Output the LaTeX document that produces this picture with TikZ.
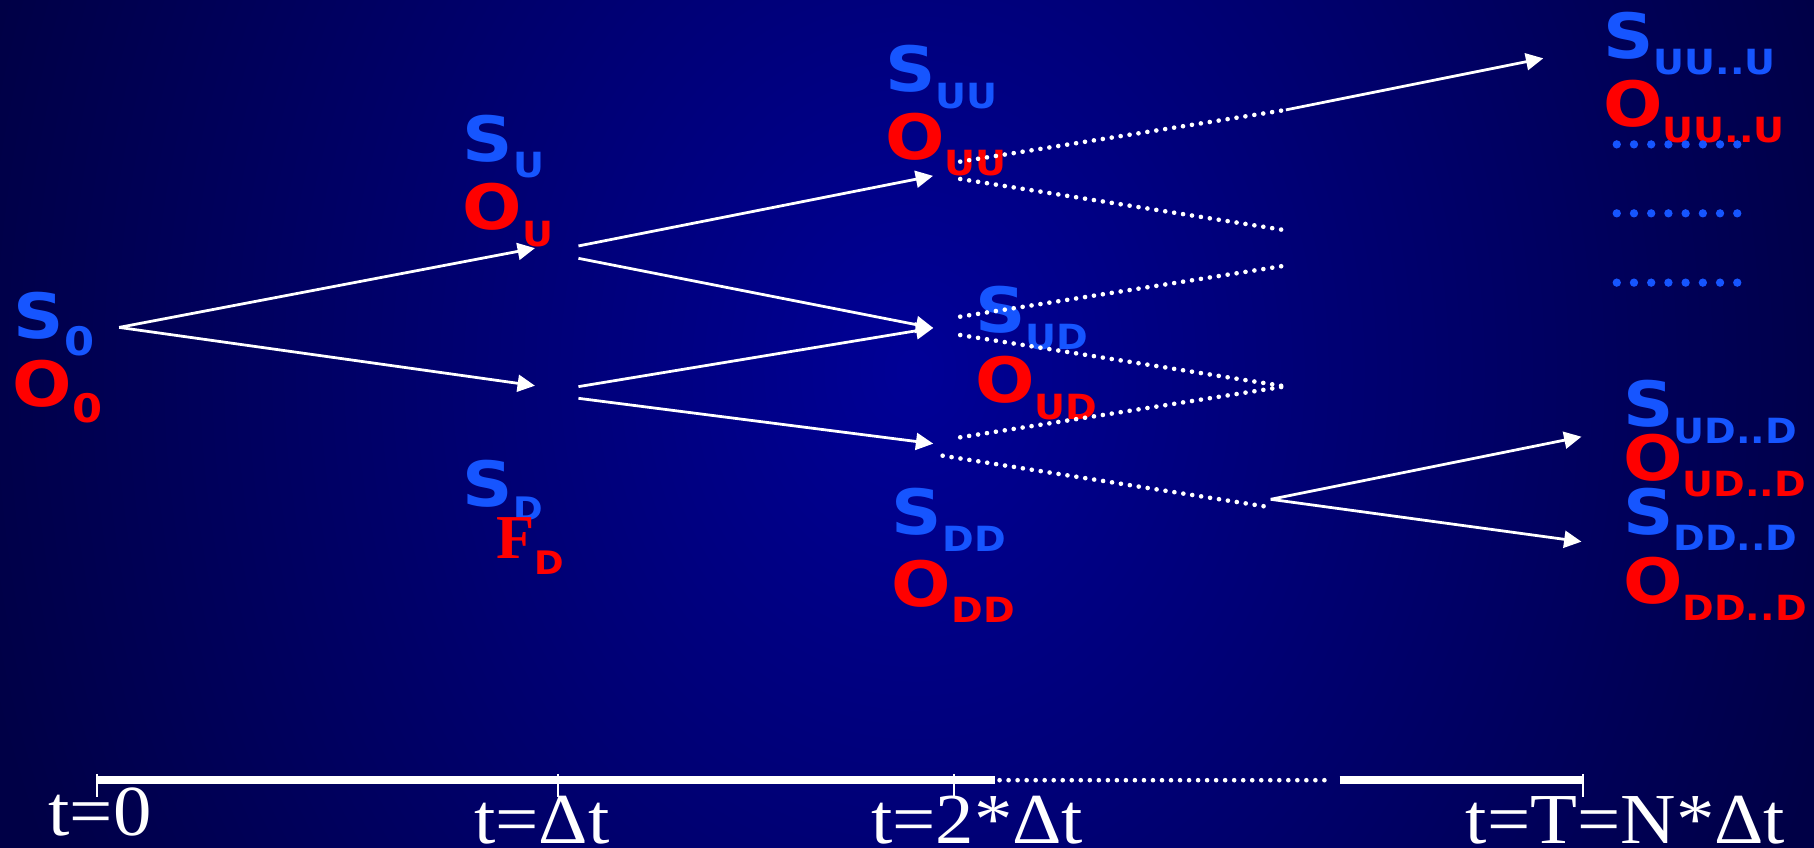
\documentclass[tikz,border=0pt]{standalone}
\usepackage{fontspec}
\usetikzlibrary{arrows.meta}
\newfontfamily\labfont{DejaVu Sans Bold}[FakeStretch=1.12]
\newfontfamily\subfont{DejaVu Sans Bold}[FakeStretch=1.1]
\newfontfamily\serfont{Liberation Serif}[FakeStretch=1.07]
\newfontfamily\serbold{Liberation Serif Bold}
\definecolor{sblue}{RGB}{22,85,255}
\definecolor{ored}{RGB}{255,0,0}
\definecolor{bgin}{RGB}{0,0,150}
\definecolor{bgout}{RGB}{0,0,70}
\newcommand\bigL[1]{{\labfont\fontsize{27pt}{27pt}\selectfont #1}}
\newcommand\subL[1]{\raisebox{-7.2pt}{\subfont\fontsize{15pt}{15pt}\selectfont #1}}
\newcommand\mylab[2]{\bigL{#1}\subL{#2}}
\newcommand\zerolab[1]{\bigL{#1}\raisebox{-7.2pt}{\subfont\fontsize{17pt}{17pt}\selectfont 0}}
\begin{document}
\begin{tikzpicture}[x=0.5pt,y=-0.5pt,
  lab/.style={anchor=base west,inner sep=0pt,outer sep=0pt,font=\labfont},
  sl/.style={lab,text=sblue},
  ol/.style={lab,text=ored},
  arr/.style={draw=white,line width=1.2pt,-{Triangle[length=7.5pt,width=7.3pt]}},
  dotl/.style={draw=white,line width=2pt,line cap=round,dash pattern=on 0pt off 3.9pt},
  barl/.style={draw=white,line width=3.6pt},
  tickl/.style={draw=white,line width=0.85pt},
  tlab/.style={anchor=base west,inner sep=0pt,outer sep=0pt,text=white,font=\serfont\fontsize{31pt}{31pt}\selectfont}]
\useasboundingbox (0,0) rectangle (1568,733);
\fill[bgout] (0,0) rectangle (1568,733);
\begin{scope}
\clip (0,0) rectangle (1568,733);
\shade[inner color=bgin,outer color=bgout] (790,320) ellipse (830 and 1000);
\end{scope}

% labels
\node[sl] (S0) at (12,292.5) {\zerolab{S}};
\node[ol] (O0) at (11,351) {\zerolab{O}};
\node[sl] (SU) at (400,139.2) {\mylab{S}{U}};
\node[ol] (OU) at (400,198.8) {\mylab{O}{U}};
\node[sl] (SD) at (400,438) {\bigL{S}\raisebox{-5.8pt}{\subfont\fontsize{14pt}{14pt}\selectfont D}};
\node[ol] (FD) at (429,482.6) {{\serbold\fontsize{27pt}{27pt}\selectfont F}\raisebox{-6.8pt}{\subfont\fontsize{14pt}{14pt}\selectfont D}};
\node[sl] (SUU) at (765,79.2) {\mylab{S}{UU}};
\node[ol] (OUU) at (765,137.5) {\mylab{O}{UU}};
\node[sl] (SUD) at (843,287.6) {\mylab{S}{UD}};
\node[ol] (OUD) at (843,348) {\mylab{O}{UD}};
\node[sl] (SDD) at (771,462) {\mylab{S}{DD}};
\node[ol] (ODD) at (771,524) {\mylab{O}{DD}};
\node[sl] (SUUU) at (1386,50.4) {\mylab{S}{UU..U}};
\node[ol] (OUUU) at (1386,109) {\mylab{O}{UU..U}};
\node[sl] (SUDD) at (1403,368.8) {\mylab{S}{UD..D}};
\node[ol] (OUDD) at (1403,415) {\mylab{O}{UD..D}};
\node[sl] (SDDD) at (1403,461.6) {\mylab{S}{DD..D}};
\node[ol] (ODDD) at (1403,522) {\mylab{O}{DD..D}};

% blue dot rows
\foreach \yy in {124.8,184.4,244.3}{
  \foreach \k in {0,...,7}{
    \fill[sblue] (1397.5+14.88*\k,\yy) circle (1.8pt);
  }
}

% tree coordinates
\coordinate (r0) at (103,283);
\coordinate (u1) at (462.4,214.5);
\coordinate (d1) at (462.4,333.4);
\coordinate (u1a) at (500,212.6);
\coordinate (u1b) at (500,223.3);
\coordinate (d1a) at (500,334.2);
\coordinate (d1b) at (500,344.3);
\coordinate (uu) at (806.5,152);
\coordinate (ud) at (806.7,283.5);
\coordinate (dd) at (806.7,383.5);
\coordinate (uuA) at (830,139.7);
\coordinate (uuB) at (830,154.7);
\coordinate (udA) at (830,273.7);
\coordinate (udB) at (830,289.6);
\coordinate (ddA) at (830,378);
\coordinate (ddB) at (814.8,393.9);
\coordinate (x1) at (1111.5,95);
\coordinate (x2) at (1111,199);
\coordinate (x3) at (1111,229.6);
\coordinate (x4) at (1111,334);
\coordinate (x5) at (1095,438);
\coordinate (xj) at (1098.4,431.6);
\coordinate (uuu) at (1334,50.4);
\coordinate (udd) at (1367,377.5);
\coordinate (ddd) at (1367,468.2);

\draw[arr] (r0) -- (u1);
\draw[arr] (r0) -- (d1);
\draw[arr] (u1a) -- (uu);
\draw[arr] (u1b) -- (ud);
\draw[arr] (d1a) -- (ud);
\draw[arr] (d1b) -- (dd);
\draw[dotl] (uuA) -- (x1);
\draw[dotl] (uuB) -- (x2);
\draw[dotl] (udA) -- (x3);
\draw[dotl] (udB) -- (x4);
\draw[dotl] (ddA) -- (x4);
\draw[dotl] (ddB) -- (x5);
\draw[arr] (x1) -- (uuu);
\draw[arr] (xj) -- (udd);
\draw[arr] (xj) -- (ddd);

% time axis
\coordinate (t0) at (83.8,674.4);
\coordinate (t1) at (482,674.4);
\coordinate (t2) at (825,674.4);
\coordinate (tdA) at (860,674.4);
\coordinate (tdB) at (1158,674.4);
\coordinate (tN) at (1368.6,674.4);
\coordinate (tdC) at (864,674.4);
\coordinate (tdD) at (1151,674.4);
\draw[barl] (t0) -- (tdA);
\draw[dotl] (tdC) -- (tdD);
\draw[barl] (tdB) -- (tN);
\foreach \c in {t0,t1,t2,tN}{
  \draw[tickl] ([yshift=2.7pt]\c) -- ([yshift=-7.3pt]\c);
}
\node[tlab] (l0) at (42,722) {t=0};
\node[tlab] (l1) at (410,729) {t=Δt};
\node[tlab] (l2) at (753,729) {t=2*Δt};
\node[tlab] (lN) at (1267,729.5) {t=T=N*Δt};
\end{tikzpicture}
\end{document}
